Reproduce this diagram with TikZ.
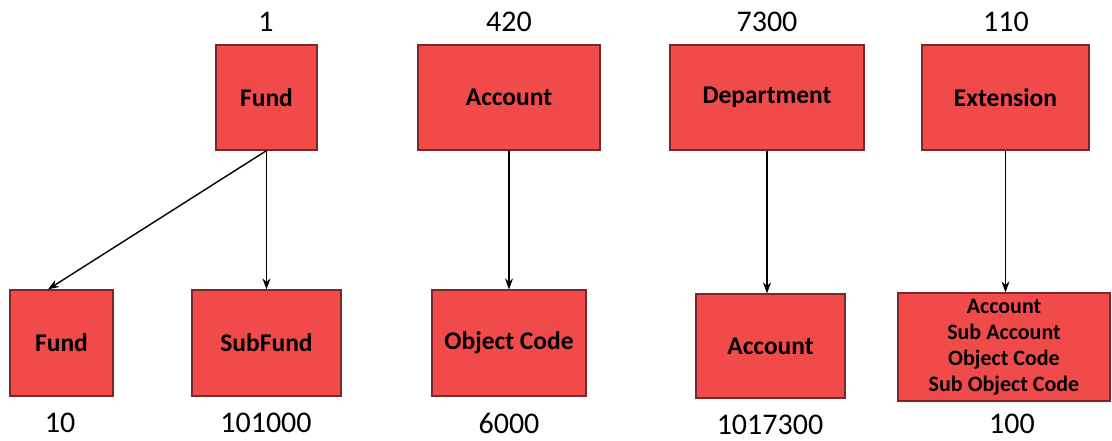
\documentclass[tikz,border=0pt]{standalone}
\usepackage{fontspec}
\setmainfont{Carlito}
\usetikzlibrary{arrows.meta}
\definecolor{boxred}{RGB}{240,74,74}
\definecolor{boxedge}{RGB}{120,40,40}
\begin{document}
\begin{tikzpicture}[x=1pt,y=-1pt,
  box/.style={draw=boxedge,line width=1.2pt,fill=boxred,font=\fontsize{25.5}{28}\selectfont\bfseries,align=center,inner sep=0pt},
  num/.style={font=\fontsize{30}{34}\selectfont,inner sep=0pt},
  arr/.style={-{Stealth[length=11pt,width=8pt]},line width=1.4pt,black}]
\useasboundingbox (0,0) rectangle (1112,440);
\node[box,minimum width=101pt,minimum height=105pt] (f1) at (266.5,97.5) {Fund};
\node[box,minimum width=182pt,minimum height=105pt] (a1) at (509,97.5) {Account};
\node[box,minimum width=194pt,minimum height=105pt] (d1) at (767,97.5) {Department};
\node[box,minimum width=167pt,minimum height=105pt] (e1) at (1005.5,97.5) {Extension};
\node[box,minimum width=103pt,minimum height=106pt] (f2) at (61.5,343) {Fund};
\node[box,minimum width=149pt,minimum height=106pt] (s2) at (266.5,343) {SubFund};
\node[box,minimum width=154pt,minimum height=106pt] (o2) at (509,343) {Object Code};
\node[box,minimum width=149pt,minimum height=104pt] (a2) at (770.5,346) {Account};
\node[box,minimum width=212pt,minimum height=108pt,font=\fontsize{22}{26}\selectfont\bfseries] (e2) at (1004,347) {Account\\Sub Account\\Object Code\\Sub Object Code};
\node[num] (n1) at (266,22) {1};
\node[num] (n2) at (509,22) {420};
\node[num] (n3) at (767,22) {7300};
\node[num] (n4) at (1006,22) {110};
\node[num] (m1) at (60,423) {10};
\node[num] (m2) at (266,423) {101000};
\node[num] (m3) at (509,423) {6000};
\node[num] (m4) at (770,424.5) {1017300};
\node[num] (m5) at (1012,424) {100};
\draw[arr] (f1.south) -- (f2.north -| 48,0);
\draw[arr] (f1.south) -- (s2.north);
\draw[arr] (a1.south) -- (o2.north);
\draw[arr] (d1.south) -- (d1.south |- a2.north);
\draw[arr] (e1.south) -- (e1.south |- e2.north);
\end{tikzpicture}
\end{document}
